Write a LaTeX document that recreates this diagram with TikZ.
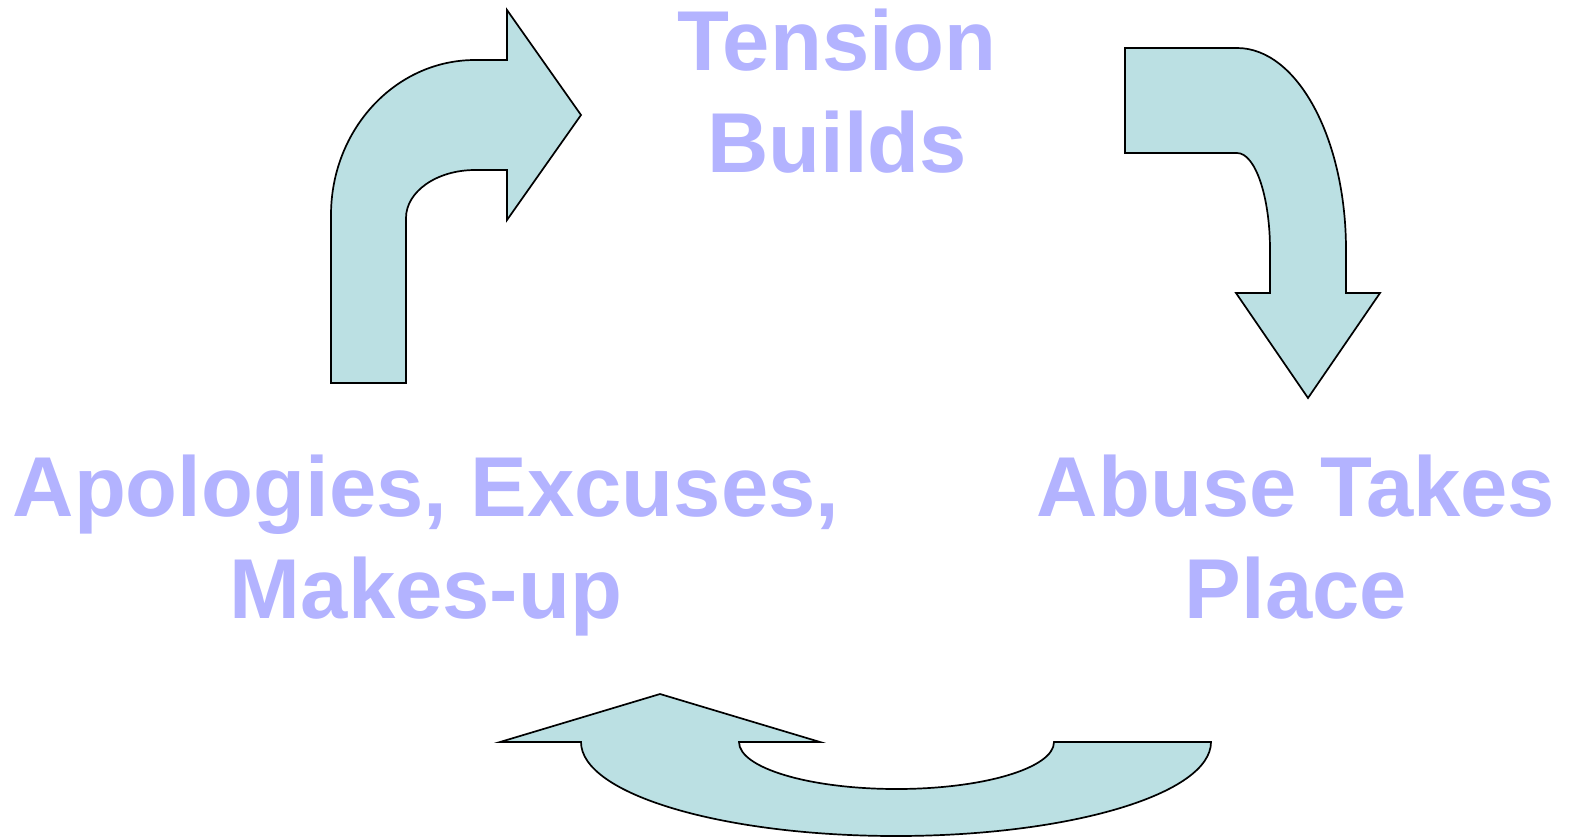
\documentclass[tikz,border=0pt]{standalone}
\usepackage{fontspec}
\setmainfont{Liberation Sans}
\definecolor{arrowfill}{HTML}{BBE0E3}
\definecolor{labelcol}{HTML}{B3B3FF}
\begin{document}
\begin{tikzpicture}[x=1pt,y=1pt,
  bigarrow/.style={fill=arrowfill,draw=black,line width=1.7pt,line join=miter},
  phase/.style={text=labelcol,font=\fontsize{85}{102}\selectfont\bfseries,align=center,inner sep=0pt,anchor=base}]
\useasboundingbox (0,0) rectangle (1570,-838);
% labels (anchor = baseline of last line)
\node[phase] (tension) at (837,-172) {Tension\\Builds};
\node[phase] (abuse) at (1296,-618) {Abuse Takes\\Place};
\node[phase] (apology) at (426,-618) {Apologies, Excuses,\\Makes-up};
% top-left bent arrow
\draw[bigarrow] (331,-383) -- (331,-215)
  arc[start angle=180,end angle=90,x radius=144,y radius=155]
  -- (507,-60) -- (507,-10) -- (581,-115) -- (507,-220) -- (507,-170) -- (475,-170)
  arc[start angle=90,end angle=180,x radius=69,y radius=48]
  -- (406,-383) -- cycle;
% top-right bent arrow
\draw[bigarrow] (1125,-48) -- (1237,-48)
  arc[start angle=90,end angle=0,x radius=109,y radius=202]
  -- (1346,-293) -- (1380,-293) -- (1308,-398) -- (1236,-293) -- (1270,-293) -- (1270,-250)
  arc[start angle=0,end angle=90,x radius=33,y radius=97]
  -- (1125,-153) -- cycle;
% bottom U-turn arrow
\draw[bigarrow] (581,-742) -- (500,-742) -- (660,-694) -- (820,-742) -- (739,-742)
  arc[start angle=180,end angle=360,x radius=157.5,y radius=47]
  -- (1211,-742)
  arc[start angle=0,end angle=-180,x radius=315,y radius=94]
  -- cycle;
\end{tikzpicture}
\end{document}
